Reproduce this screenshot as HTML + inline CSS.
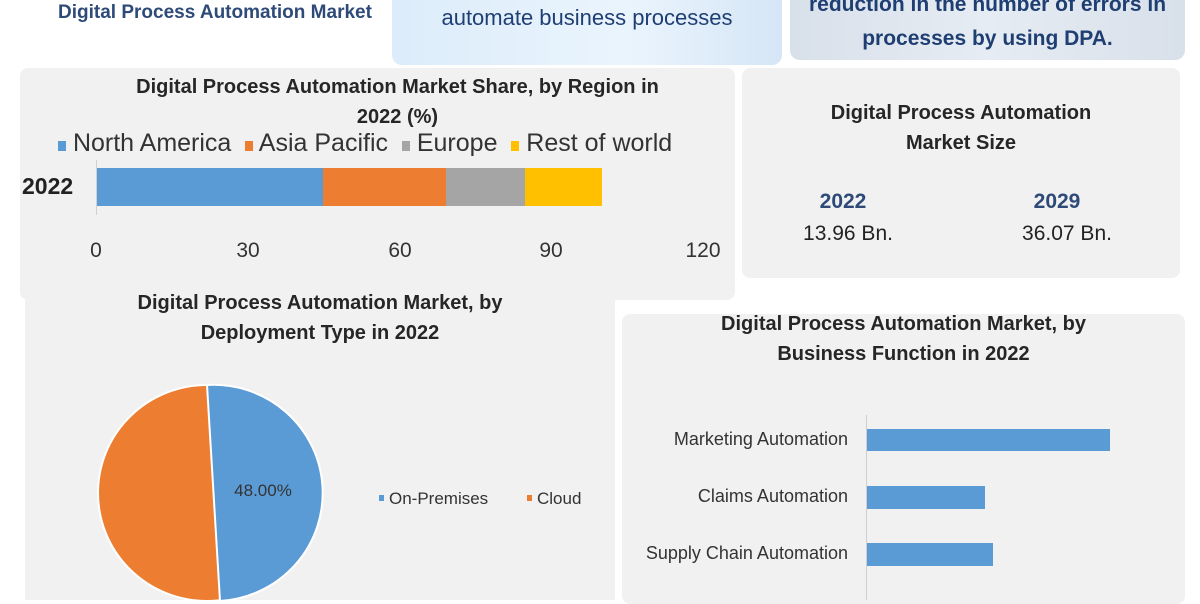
<!DOCTYPE html>
<html><head><meta charset="utf-8"><style>
body{margin:0;width:1200px;height:600px;background:#fff;overflow:hidden;position:relative;font-family:"Liberation Sans Narrow","Liberation Sans",sans-serif;}
.a{position:absolute;}
.t{font-weight:bold;color:#262626;text-align:center;font-size:20px;line-height:30px;}
</style></head><body>
<div class="a" style="left:58px;top:2px;font-size:19px;font-weight:bold;color:#2e4a78;">Digital Process Automation Market</div>
<div class="a" style="left:392px;top:-10px;width:390px;height:75px;border-radius:10px;background:linear-gradient(90deg,#dcecfa,#eaf4fd 60%,#d6e6f6);"></div>
<div class="a" style="left:392px;top:5px;width:390px;text-align:center;font-size:22px;color:#1f3f73;">automate business processes</div>
<div class="a" style="left:790px;top:-10px;width:395px;height:70px;border-radius:10px;background:linear-gradient(90deg,#d8e0ea,#e6ecf3 50%,#d8e0ea);"></div>
<div class="a" style="left:790px;top:-12px;width:395px;text-align:center;font-size:21px;font-weight:bold;color:#1f3f73;line-height:34px;">reduction in the number of errors in<br>processes by using DPA.</div>

<div class="a" style="left:20px;top:68px;width:715px;height:232px;background:#f1f1f1;border-radius:8px;"></div>
<div class="a t" style="left:20px;top:72px;width:755px;">Digital Process Automation Market Share, by Region in<br>2022 (%)</div>
<div class="a" style="left:58px;top:128px;font-size:25px;color:#333;white-space:nowrap;line-height:30px;">
<span style="display:inline-block;width:8px;height:10px;background:#5b9bd5"></span> North America&nbsp; <span style="display:inline-block;width:8px;height:10px;background:#ed7d31"></span> Asia Pacific&nbsp; <span style="display:inline-block;width:8px;height:10px;background:#a5a5a5"></span> Europe&nbsp; <span style="display:inline-block;width:8px;height:10px;background:#ffc000"></span> Rest of world</div>
<div class="a" style="left:22px;top:173px;font-size:23px;font-weight:bold;color:#222;">2022</div>
<div class="a" style="left:96px;top:160px;width:1px;height:55px;background:#d0d0d0"></div>
<div class="a" style="left:97px;top:168px;width:226px;height:38px;background:#5b9bd5"></div>
<div class="a" style="left:323px;top:168px;width:123px;height:38px;background:#ed7d31"></div>
<div class="a" style="left:446px;top:168px;width:79px;height:38px;background:#a5a5a5"></div>
<div class="a" style="left:525px;top:168px;width:77px;height:38px;background:#ffc000"></div>
<div class="a" style="left:66px;top:239px;width:60px;text-align:center;font-size:21px;color:#333">0</div>
<div class="a" style="left:218px;top:239px;width:60px;text-align:center;font-size:21px;color:#333">30</div>
<div class="a" style="left:370px;top:239px;width:60px;text-align:center;font-size:21px;color:#333">60</div>
<div class="a" style="left:521px;top:239px;width:60px;text-align:center;font-size:21px;color:#333">90</div>
<div class="a" style="left:673px;top:239px;width:60px;text-align:center;font-size:21px;color:#333">120</div>

<div class="a" style="left:742px;top:68px;width:438px;height:210px;background:#f1f1f1;border-radius:8px;"></div>
<div class="a t" style="left:742px;top:98px;width:438px;">Digital Process Automation<br>Market Size</div>
<div class="a" style="left:793px;top:190px;width:100px;text-align:center;font-size:21px;font-weight:bold;color:#2e4a78">2022</div>
<div class="a" style="left:1007px;top:190px;width:100px;text-align:center;font-size:21px;font-weight:bold;color:#2e4a78">2029</div>
<div class="a" style="left:793px;top:222px;width:110px;text-align:center;font-size:21px;color:#222">13.96 Bn.</div>
<div class="a" style="left:1012px;top:222px;width:110px;text-align:center;font-size:21px;color:#222">36.07 Bn.</div>

<div class="a" style="left:25px;top:300px;width:590px;height:300px;background:#f1f1f1;"></div>
<div class="a t" style="left:25px;top:288px;width:590px;">Digital Process Automation Market, by<br>Deployment Type in 2022</div>
<svg class="a" style="left:0;top:0" width="1200" height="600">
<ellipse cx="207" cy="493" rx="109" ry="108" fill="#ed7d31" stroke="#fff" stroke-width="2"/>
<path d="M207 385 A109 108 0 0 1 220 601 Z" fill="#5b9bd5" stroke="#fff" stroke-width="2"/>
<text x="263" y="496" font-size="17" fill="#333" text-anchor="middle" font-family="Liberation Sans Narrow, Liberation Sans, sans-serif">48.00%</text>
<rect x="379" y="495" width="5" height="6" fill="#5b9bd5"/>
<text x="389" y="504" font-size="17" fill="#333" font-family="Liberation Sans Narrow, Liberation Sans, sans-serif">On-Premises</text>
<rect x="527" y="495" width="5" height="6" fill="#ed7d31"/>
<text x="537" y="504" font-size="17" fill="#333" font-family="Liberation Sans Narrow, Liberation Sans, sans-serif">Cloud</text>
</svg>

<div class="a" style="left:622px;top:314px;width:563px;height:290px;background:#f1f1f1;border-radius:8px;"></div>
<div class="a t" style="left:622px;top:309px;width:563px;">Digital Process Automation Market, by<br>Business Function in 2022</div>
<div class="a" style="left:866px;top:415px;width:1px;height:185px;background:#d0d0d0"></div>
<div class="a" style="left:867px;top:429px;width:243px;height:22px;background:#5b9bd5"></div>
<div class="a" style="left:867px;top:486px;width:118px;height:23px;background:#5b9bd5"></div>
<div class="a" style="left:867px;top:543px;width:126px;height:23px;background:#5b9bd5"></div>
<div class="a" style="left:560px;top:429px;width:288px;text-align:right;font-size:18px;color:#333">Marketing Automation</div>
<div class="a" style="left:560px;top:486px;width:288px;text-align:right;font-size:18px;color:#333">Claims Automation</div>
<div class="a" style="left:560px;top:543px;width:288px;text-align:right;font-size:18px;color:#333">Supply Chain Automation</div>
</body></html>
